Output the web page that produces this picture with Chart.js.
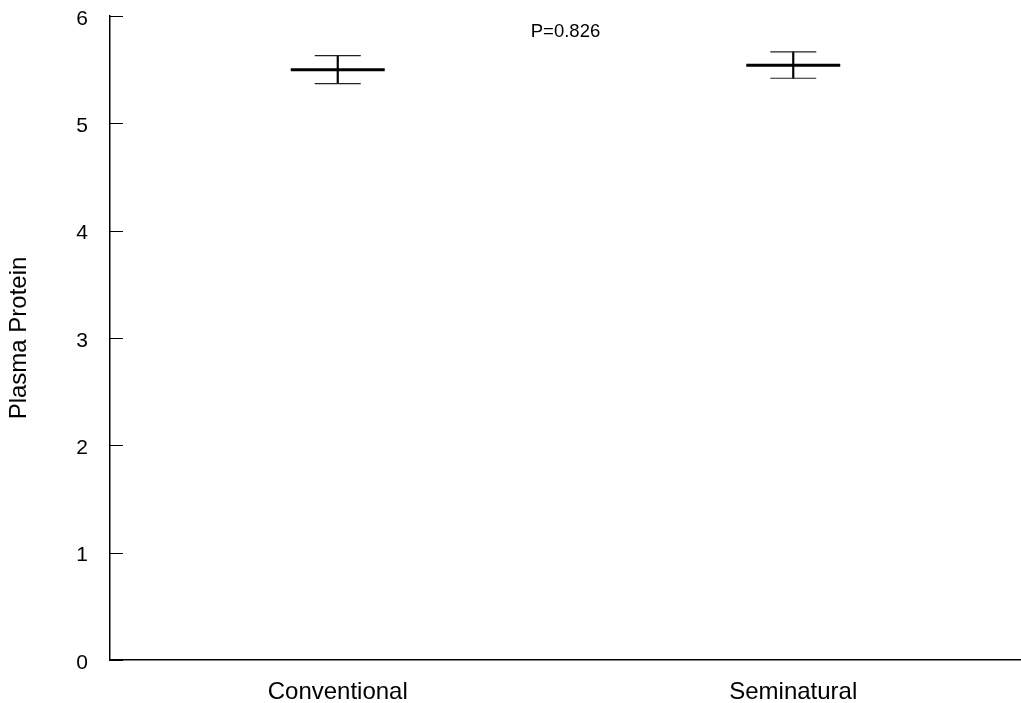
<!DOCTYPE html>
<html>
<head>
<meta charset="utf-8">
<script src="https://cdn.jsdelivr.net/npm/chart.js@4"></script>
<style>
  html, body { margin: 0; padding: 0; background: #fff; }
  #wrap { width: 1021px; height: 703px; }
</style>
</head>
<body>
<div id="wrap"><canvas id="chart"></canvas></div>
<script>
// data
const groups = ["Conventional", "Seminatural"];
const means = [5.50, 5.54];
const lowerErr = [5.37, 5.42];
const upperErr = [5.63, 5.665];
const yMin = 0, yMax = 6, yStep = 1;
const pLabel = "P=0.826";
const pLabelY = 5.85;

// short tick marks pointing into the plot, plus the P value text
const extras = {
  id: "extras",
  afterDatasetsDraw(chart) {
    const { ctx, chartArea, scales: { x, y } } = chart;
    ctx.save();
    ctx.strokeStyle = "#000";
    ctx.lineWidth = 1;
    y.ticks.forEach(t => {
      const py = Math.round(y.getPixelForValue(t.value)) + 0.5;
      ctx.beginPath();
      ctx.moveTo(chartArea.left, py);
      ctx.lineTo(chartArea.left + 13, py);
      ctx.stroke();
    });
    ctx.fillStyle = "#000";
    ctx.font = "18.5px 'Liberation Sans', Arial, sans-serif";
    ctx.textAlign = "center";
    ctx.textBaseline = "middle";
    const px = (x.getPixelForValue(0) + x.getPixelForValue(1)) / 2;
    ctx.fillText(pLabel, px, y.getPixelForValue(pLabelY));
    ctx.restore();
  }
};

new Chart(document.getElementById("chart"), {
  type: "bar",
  data: {
    labels: groups,
    datasets: [
      {
        // vertical error whisker
        type: "bar",
        data: groups.map((g, i) => [lowerErr[i], upperErr[i]]),
        backgroundColor: "#000",
        barThickness: 1.5,
        order: 3
      },
      {
        // mean
        type: "line",
        data: means,
        showLine: false,
        pointStyle: "line",
        pointRadius: 47,
        pointHoverRadius: 47,
        pointBorderWidth: 3,
        pointBorderColor: "#000",
        order: 1
      },
      {
        type: "line",
        data: upperErr,
        showLine: false,
        pointStyle: "line",
        pointRadius: 23,
        pointHoverRadius: 23,
        pointBorderWidth: 1.2,
        pointBorderColor: "#222",
        order: 2
      },
      {
        type: "line",
        data: lowerErr,
        showLine: false,
        pointStyle: "line",
        pointRadius: 23,
        pointHoverRadius: 23,
        pointBorderWidth: 1.2,
        pointBorderColor: "#222",
        order: 2
      }
    ]
  },
  options: {
    responsive: true,
    maintainAspectRatio: false,
    animation: false,
    layout: { autoPadding: false, padding: { top: 16, right: 0, left: 0, bottom: 0 } },
    plugins: {
      legend: { display: false },
      tooltip: { enabled: false }
    },
    scales: {
      x: {
        offset: true,
        grid: { display: false, drawTicks: false },
        border: { display: true, color: "#000", width: 1.5 },
        ticks: {
          color: "#000",
          padding: 18,
          font: { family: "'Liberation Sans', Arial, sans-serif", size: 24 }
        },
        afterFit: s => { s.height = 43; s.paddingLeft = 0; s.paddingRight = 0; }
      },
      y: {
        min: yMin,
        max: yMax,
        grid: { display: false, drawTicks: false },
        border: { display: true, color: "#000", width: 1.5 },
        ticks: {
          stepSize: yStep,
          color: "#000",
          padding: 22,
          labelOffset: 3,
          font: { family: "'Liberation Sans', Arial, sans-serif", size: 21 }
        },
        title: {
          display: true,
          text: "Plasma Protein",
          color: "#000",
          padding: { top: 5, bottom: 0 },
          font: { family: "'Liberation Sans', Arial, sans-serif", size: 24 }
        },
        afterFit: s => { s.width = 110; s.paddingTop = 0; s.paddingBottom = 0; }
      }
    }
  },
  plugins: [extras]
});
</script>
</body>
</html>
